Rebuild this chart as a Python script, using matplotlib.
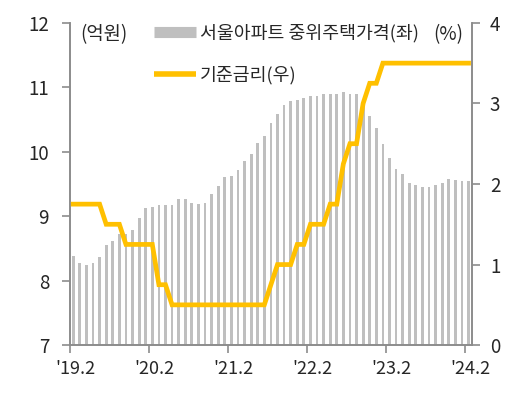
import numpy as np
import matplotlib
matplotlib.use("Agg")
import matplotlib.pyplot as plt
from matplotlib.lines import Line2D
from matplotlib.ticker import FixedLocator

plt.rcParams['font.family'] = ['Noto Sans CJK KR', 'DejaVu Sans']

# 서울 아파트 중위주택가격 (억원), 월별 2019.2 ~ 2024.2
price = [8.38, 8.27, 8.25, 8.28, 8.36, 8.56, 8.61, 8.72, 8.73, 8.78,
         8.97, 9.13, 9.14, 9.17, 9.18, 9.18, 9.26, 9.27, 9.20, 9.19,
         9.20, 9.34, 9.47, 9.61, 9.63, 9.72, 9.85, 9.97, 10.14, 10.24,
         10.45, 10.59, 10.72, 10.78, 10.80, 10.84, 10.87, 10.87, 10.89, 10.90,
         10.90, 10.92, 10.90, 10.89, 10.74, 10.56, 10.37, 10.12, 9.91, 9.74,
         9.65, 9.52, 9.49, 9.45, 9.45, 9.48, 9.52, 9.57, 9.56, 9.55, 9.54]

# 기준금리 (%)
rate = [1.75] * 5 + [1.5] * 3 + [1.25] * 5 + [0.75] * 2 + [0.5] * 15 + \
       [0.75] + [1.0] * 3 + [1.25] * 2 + [1.5] * 3 + [1.75] * 2 + [2.25] + \
       [2.5] * 2 + [3.0] + [3.25] * 2 + [3.5] * 14

xlabels = ["'19.2", "'20.2", "'21.2", "'22.2", "'23.2", "'24.2"]

x = np.arange(len(price))
grey = '#bfbfbf'
gold = '#ffc000'
spine_c = '#8c8c8c'
txt_c = '#262626'

fig = plt.figure(figsize=(5.26, 3.94), dpi=100)
ax = fig.add_axes([0.133, 0.124, 0.764, 0.818])
ax2 = ax.twinx()

ax.bar(x, price, width=0.42, color=grey, zorder=1)
ax2.plot(x, rate, color=gold, lw=3.4, solid_joinstyle='miter', zorder=3)

ax.set_xlim(-0.5, len(price) - 0.5)
ax.set_ylim(7, 12)
ax2.set_ylim(0, 4)
ax.set_yticks(range(7, 13))
ax2.set_yticks(range(0, 5))

# 눈금선은 구간 경계, 라벨은 구간 중앙
tick_pos = np.arange(0, len(price), 12) - 0.5
ax.set_xticks(tick_pos)
ax.set_xticklabels([])
ax.xaxis.set_minor_locator(FixedLocator(np.arange(0, len(price), 12) + 0.3))
ax.set_xticklabels(xlabels, minor=True)
ax.tick_params(axis='x', which='minor', length=0, pad=11, labelsize=13, colors=txt_c)
ax.tick_params(axis='x', which='major', length=6, width=1.2, color=spine_c)

ax.tick_params(axis='y', length=6, width=1.2, color=spine_c, pad=9, labelsize=13.5, labelcolor=txt_c)
ax2.tick_params(axis='y', length=6, width=1.2, color=spine_c, pad=7, labelsize=13.5, labelcolor=txt_c)

for a in (ax, ax2):
    a.spines['top'].set_visible(False)
    for s in ('left', 'right', 'bottom'):
        a.spines[s].set_color(spine_c)
        a.spines[s].set_linewidth(1.2)
ax.patch.set_visible(False)

ax.text(0.025, 0.962, '(억원)', transform=ax.transAxes, fontsize=13.5,
        color=txt_c, va='center', ha='left')
ax.text(0.978, 0.962, '(%)', transform=ax.transAxes, fontsize=13.5,
        color=txt_c, va='center', ha='right')

handles = [Line2D([], [], color=grey, lw=8, solid_capstyle='butt'),
           Line2D([], [], color=gold, lw=4, solid_capstyle='butt')]
leg = ax2.legend(handles, ['서울아파트 중위주택가격(좌)', '기준금리(우)'],
                 loc='upper left', bbox_to_anchor=(0.2, 1.008), frameon=False,
                 fontsize=13.2, handlelength=2.3, handletextpad=0.2,
                 labelspacing=1.3, borderpad=0.2, borderaxespad=0)
for t in leg.get_texts():
    t.set_color(txt_c)

fig.savefig('out.png', dpi=100)
